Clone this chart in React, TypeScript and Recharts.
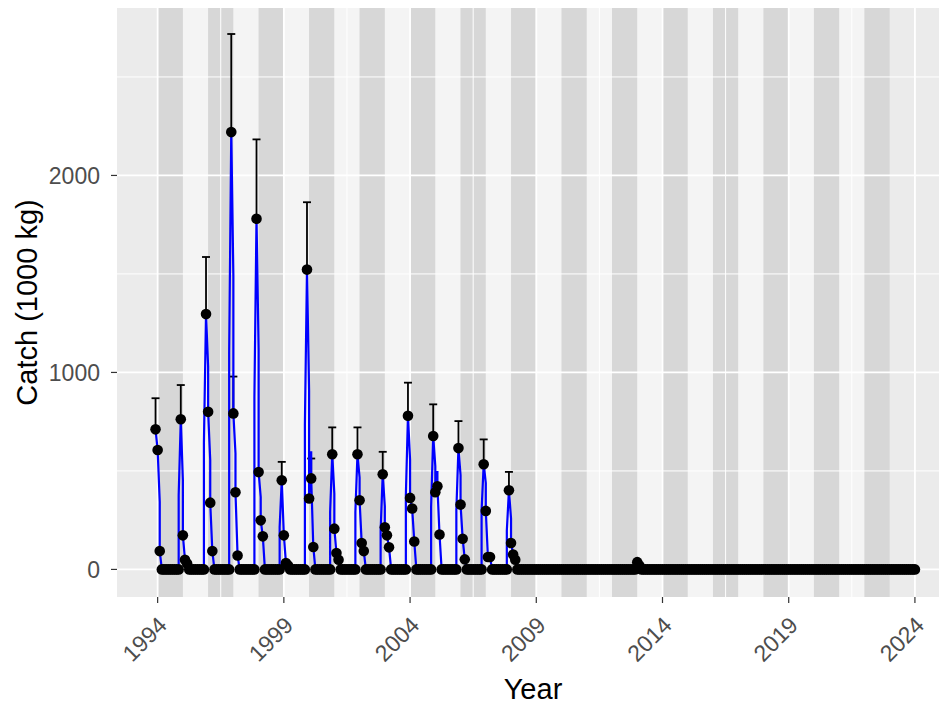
import React from "react";
import {
  ComposedChart,
  XAxis,
  YAxis,
  CartesianGrid,
  Line,
  Scatter,
  ErrorBar,
  ReferenceArea,
  ReferenceLine,
} from "recharts";

// ---- data ----
// season = year of January; peak month is December of the previous year
const seasons = [1994, 1995, 1996, 1997, 1998, 1999, 2000, 2001, 2002, 2003, 2004, 2005, 2006, 2007, 2008];
const novRise = [null, 377, 643, 1099, 877, 215, 733, 292, 292, 198, 377, 317, 300, 300, 198];
const decObs = [711, 762, 1296, 2220, 1780, 453, 1522, 585, 585, 483, 780, 677, 616, 534, 402];
const decHi = [869, 936, 1586, 2718, 2183, 546, 1864, 721, 721, 597, 948, 838, 753, 660, 495];
const janPred = [606, 453, 1030, 1488, 1115, 173, 907, 385, 467, 321, 558, 524, 478, 439, 258];
const janObs = [606, 173, 800, 792, 494, 173, 360, 207, 351, 214, 363, 392, 329, 297, 134];
const janHi = [null, null, null, 979, null, null, null, null, null, null, null, null, null, null, null];
const febPred = [343, 49, 555, 590, 368, 32, 600, 83, 134, 173, 309, 500, 156, 63, 76];
const febObs = [93, 49, 339, 392, 249, 32, 462, 83, 134, 173, 309, 422, 156, 63, 76];
const febHi = [null, null, null, null, null, null, 563, null, null, null, null, null, null, null, null];
const marObs = [0, 30, 93, 71, 168, 20, 114, 49, 93, 112, 142, 177, 51, 63, 49];

const otherTimes = [2013.0, 2013.0833];
const otherValues = [37, 20];

const firstMonth = 1993 + 11 / 12; // Dec 1993
const lastMonth = 2024.0; // Jan 2024

const xTicks = [1994, 1999, 2004, 2009, 2014, 2019, 2024];
const xMinor = [1996.5, 2001.5, 2006.5, 2011.5, 2016.5, 2021.5];
const yTicks = [0, 1000, 2000];
const yMinor = [500, 1500, 2500];
const bandYears = [
  1994, 1995, 1996, 1997, 1998, 1999, 2000, 2001, 2002, 2003, 2004, 2005, 2006, 2007, 2008,
  2009, 2010, 2011, 2012, 2013, 2014, 2015, 2016, 2017, 2018, 2019, 2020, 2021, 2022,
];

// ---- build tables ----
const monthCount = Math.round((lastMonth - firstMonth) * 12) + 1;
const tOf = (m: number) => firstMonth + m / 12;
const idxOf = (t: number) => Math.round((t - firstMonth) * 12);

const obs: number[] = [];
const blueVals: (number[] | null)[] = [];
for (let m = 0; m < monthCount; m++) {
  obs.push(0);
  blueVals.push(null);
}
const errPoints: { t: number; v: number; err: number[] }[] = [];

seasons.forEach((s, i) => {
  const dec = idxOf(s - 1 / 12);
  if (novRise[i] != null && dec - 1 >= 0) blueVals[dec - 1] = [0, novRise[i] as number];
  obs[dec] = decObs[i];
  blueVals[dec] = [decObs[i]];
  obs[dec + 1] = janObs[i];
  blueVals[dec + 1] = [janPred[i], janObs[i]];
  obs[dec + 2] = febObs[i];
  blueVals[dec + 2] = [febPred[i], febObs[i]];
  obs[dec + 3] = marObs[i];
  blueVals[dec + 3] = [marObs[i]];
  errPoints.push({ t: tOf(dec), v: decObs[i], err: [0, decHi[i] - decObs[i]] });
  if (janHi[i] != null) errPoints.push({ t: tOf(dec + 1), v: janObs[i], err: [0, (janHi[i] as number) - janObs[i]] });
  if (febHi[i] != null) errPoints.push({ t: tOf(dec + 2), v: febObs[i], err: [0, (febHi[i] as number) - febObs[i]] });
});
otherTimes.forEach((t, i) => {
  const m = idxOf(t);
  obs[m] = otherValues[i];
  blueVals[m] = [otherValues[i]];
});

const obsData = obs.map((v, m) => ({ t: tOf(m), v }));
const blueData: { t: number; v: number }[] = [];
blueVals.forEach((vals, m) => {
  const list = vals ?? [obs[m]];
  list.forEach((v) => blueData.push({ t: tOf(m), v }));
});

const X_DOMAIN: [number, number] = [1992.39, 2025.35];
const Y_DOMAIN: [number, number] = [-140, 2850];
const FONT = "'Liberation Sans', Arial, sans-serif";

const XTick = (props: any) => {
  const { x, y, payload } = props;
  return (
    <g transform={`translate(${x - 1},${y + 10})`}>
      <text
        x={0}
        y={0}
        dy="0.72em"
        textAnchor="end"
        transform="rotate(-45)"
        fontSize={23}
        fontFamily={FONT}
        fill="#4D4D4D"
      >
        {payload.value}
      </text>
    </g>
  );
};

const Dot = (p: any) => <circle cx={p.cx} cy={p.cy} r={5.3} fill="#000" />;
const NoShape = () => <g />;

export default function App() {
  return (
    <div
      style={{
        position: "absolute",
        left: 0,
        top: 0,
        width: 939,
        height: 709,
        overflow: "hidden",
        background: "#fff",
      }}
    >
      <ComposedChart
        width={949}
        height={709}
        margin={{ top: 8, right: 0, left: 0, bottom: 52 }}
        style={{ fontFamily: FONT }}
      >
        <CartesianGrid fill="#EBEBEB" fillOpacity={1} horizontal={false} vertical={false} />
        <XAxis
          type="number"
          dataKey="t"
          domain={X_DOMAIN}
          allowDataOverflow
          ticks={xTicks}
          interval={0}
          height={60}
          axisLine={false}
          tickLine={{ stroke: "#333333", strokeWidth: 1.2 }}
          tickSize={6}
          tickMargin={2}
          tick={<XTick />}
        />
        <YAxis
          type="number"
          domain={Y_DOMAIN}
          allowDataOverflow
          ticks={yTicks}
          interval={0}
          width={117}
          axisLine={false}
          tickLine={{ stroke: "#333333", strokeWidth: 1.2 }}
          tickSize={6}
          tickMargin={11}
          tick={{ fontSize: 23, fill: "#4D4D4D", fontFamily: FONT }}
        />
        {yMinor.map((v) => (
          <ReferenceLine key={"ym" + v} y={v} stroke="#FFFFFF" strokeWidth={1} ifOverflow="hidden" />
        ))}
        {xMinor.map((v) => (
          <ReferenceLine key={"xm" + v} x={v} stroke="#FFFFFF" strokeWidth={1} ifOverflow="hidden" />
        ))}
        {yTicks.map((v) => (
          <ReferenceLine key={"yM" + v} y={v} stroke="#FFFFFF" strokeWidth={1.8} ifOverflow="hidden" />
        ))}
        {xTicks.map((v) => (
          <ReferenceLine key={"xM" + v} x={v} stroke="#FFFFFF" strokeWidth={1.8} ifOverflow="hidden" />
        ))}
        {bandYears.map((yr) => (
          <ReferenceArea
            key={"b" + yr}
            x1={yr}
            x2={yr + 1}
            y1={Y_DOMAIN[0]}
            y2={Y_DOMAIN[1]}
            fill={yr % 2 === 0 ? "#C4C4C4" : "#FFFFFF"}
            fillOpacity={yr % 2 === 0 ? 0.5 : 0.45}
            stroke="none"
            ifOverflow="hidden"
          />
        ))}
        <Scatter data={errPoints} dataKey="v" shape={NoShape} isAnimationActive={false}>
          <ErrorBar dataKey="err" direction="y" width={4} stroke="#000" strokeWidth={1.8} />
        </Scatter>
        <Line
          data={blueData}
          dataKey="v"
          type="linear"
          stroke="#0000FF"
          strokeWidth={2.2}
          dot={false}
          activeDot={false}
          isAnimationActive={false}
        />
        <Scatter data={obsData} dataKey="v" shape={Dot} isAnimationActive={false} />
      </ComposedChart>
      <svg
        width={939}
        height={709}
        style={{ position: "absolute", left: 0, top: 0, pointerEvents: "none" }}
      >
        <text x={533} y={699} textAnchor="middle" fontSize={29} fontFamily={FONT} fill="#000">
          Year
        </text>
        <text
          x={0}
          y={0}
          textAnchor="middle"
          fontSize={29}
          fontFamily={FONT}
          fill="#000"
          transform="translate(37,302.5) rotate(-90)"
        >
          Catch (1000 kg)
        </text>
      </svg>
    </div>
  );
}
